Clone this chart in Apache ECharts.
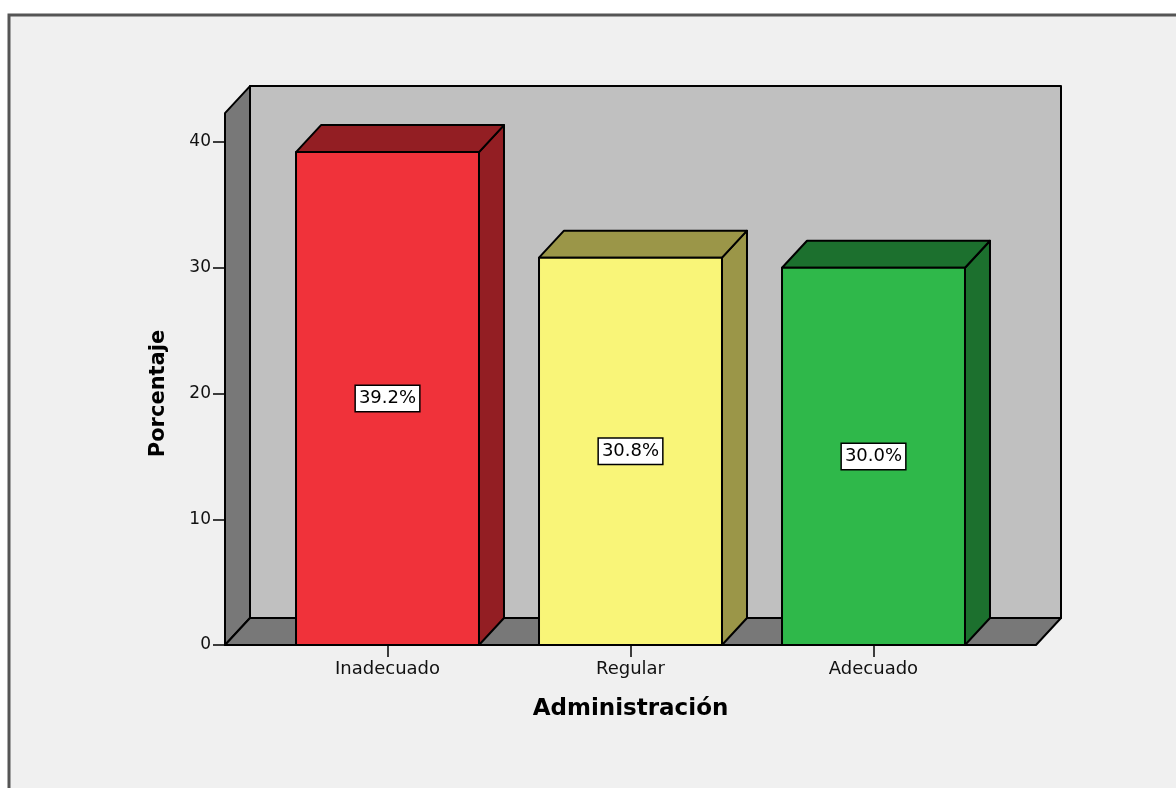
<!DOCTYPE html>
<html>
<head>
<meta charset="utf-8">
<script src="https://cdn.jsdelivr.net/npm/echarts@6/dist/echarts.min.js"></script>
<style>
  html, body { margin: 0; padding: 0; background: #ffffff; }
  #chart { width: 1176px; height: 788px; }
</style>
</head>
<body>
<div id="chart"></div>
<script>
// Administración: percentage per level
const categories = ['Inadecuado', 'Regular', 'Adecuado'];
const percentages = [39.2, 30.8, 30.0];

// Front / shaded face colours for each bar
const frontColors = ['#f0323a', '#f9f578', '#2fb84a'];
const shadeColors = ['#931e23', '#9b9648', '#1c702e'];

// Box geometry for the pseudo-3D frame
const DEPTH_X = 25;
const DEPTH_Y = -27;
const WALL_TOP = 42.3;      // value reached by the front edge of the side wall
const FLOOR_PAD = 41;       // floor extends this far past the first/last band
const FONT = '"DejaVu Sans", Verdana, sans-serif';

const chart = echarts.init(document.getElementById('chart'), null, { renderer: 'canvas' });

function renderBox(params, api) {
  const cs = params.coordSys;
  const origin = api.coord([0, 0]);
  const topPt = api.coord([0, WALL_TOP]);
  const yb = origin[1];
  const yt = topPt[1];
  const xl = cs.x - FLOOR_PAD;
  const xr = cs.x + cs.width + FLOOR_PAD;
  const stroke = { stroke: '#000', lineWidth: 2, lineJoin: 'round' };
  return {
    type: 'group',
    children: [
      { type: 'rect', shape: { x: xl + DEPTH_X, y: yt + DEPTH_Y, width: xr - xl, height: yb - yt },
        style: Object.assign({ fill: '#c0c0c0' }, stroke) },
      { type: 'polygon', shape: { points: [[xl, yb], [xl + DEPTH_X, yb + DEPTH_Y], [xl + DEPTH_X, yt + DEPTH_Y], [xl, yt]] },
        style: Object.assign({ fill: '#787878' }, stroke) },
      { type: 'polygon', shape: { points: [[xl, yb], [xr, yb], [xr + DEPTH_X, yb + DEPTH_Y], [xl + DEPTH_X, yb + DEPTH_Y]] },
        style: Object.assign({ fill: '#787878' }, stroke) }
    ]
  };
}

function renderBar(params, api) {
  const idx = api.value(0);
  const val = api.value(1);
  const top = api.coord([idx, val]);
  const base = api.coord([idx, 0]);
  const w = api.size([1, 0])[0] * 0.753;
  const x0 = top[0] - w / 2;
  const x1 = top[0] + w / 2;
  const yT = top[1];
  const yB = base[1];
  const stroke = { stroke: '#000', lineWidth: 2, lineJoin: 'round' };
  const i = params.dataIndex;
  return {
    type: 'group',
    children: [
      { type: 'polygon', shape: { points: [[x1, yT], [x1 + DEPTH_X, yT + DEPTH_Y], [x1 + DEPTH_X, yB + DEPTH_Y], [x1, yB]] },
        style: Object.assign({ fill: shadeColors[i] }, stroke) },
      { type: 'polygon', shape: { points: [[x0, yT], [x0 + DEPTH_X, yT + DEPTH_Y], [x1 + DEPTH_X, yT + DEPTH_Y], [x1, yT]] },
        style: Object.assign({ fill: shadeColors[i] }, stroke) },
      { type: 'rect', shape: { x: x0, y: yT, width: w, height: yB - yT },
        style: Object.assign({ fill: frontColors[i] }, stroke) },
      { type: 'text',
        style: {
          text: val.toFixed(1) + '%',
          x: top[0], y: (yT + yB) / 2,
          align: 'center', verticalAlign: 'middle',
          fill: '#000', fontSize: 18, fontFamily: FONT,
          backgroundColor: '#ffffff', borderColor: '#000', borderWidth: 1.5,
          padding: [4, 3, 3, 3]
        } }
    ]
  };
}

const option = {
  animation: false,
  backgroundColor: '#ffffff',
  graphic: [
    { type: 'rect', z: -100, silent: true,
      shape: { x: 9, y: 15, width: 1200, height: 800 },
      style: { fill: '#f0f0f0', stroke: '#555555', lineWidth: 3 } }
  ],
  grid: { left: 266, right: 181, top: 142, bottom: 143, containLabel: false },
  xAxis: {
    type: 'category',
    data: categories,
    name: 'Administración',
    nameLocation: 'middle',
    nameGap: 53,
    nameTextStyle: { fontFamily: FONT, fontWeight: 'bold', fontSize: 23, color: '#000' },
    axisLine: { show: false },
    axisTick: { show: true, alignWithLabel: true, length: 12, lineStyle: { color: '#000', width: 1.5 } },
    axisLabel: { fontFamily: FONT, fontSize: 18, color: '#111', margin: 15 },
    splitLine: { show: false }
  },
  yAxis: {
    type: 'value',
    min: 0, max: 40, interval: 10,
    offset: 41,
    name: 'Porcentaje',
    nameLocation: 'middle',
    nameRotate: 90,
    nameGap: 56,
    nameTextStyle: { fontFamily: FONT, fontWeight: 'bold', fontSize: 21, color: '#000' },
    axisLine: { show: false },
    axisTick: { show: true, length: 12, lineStyle: { color: '#000', width: 1.5 } },
    axisLabel: { fontFamily: FONT, fontSize: 17, color: '#111', margin: 14 },
    splitLine: { show: false }
  },
  series: [
    { type: 'custom', name: 'box', z: 1, clip: false, silent: true,
      renderItem: renderBox, data: [[0, 0]] },
    { type: 'custom', name: 'Porcentaje', z: 3, clip: false,
      renderItem: renderBar,
      data: percentages.map((v, i) => [i, v]) }
  ]
};

chart.setOption(option);
</script>
</body>
</html>
